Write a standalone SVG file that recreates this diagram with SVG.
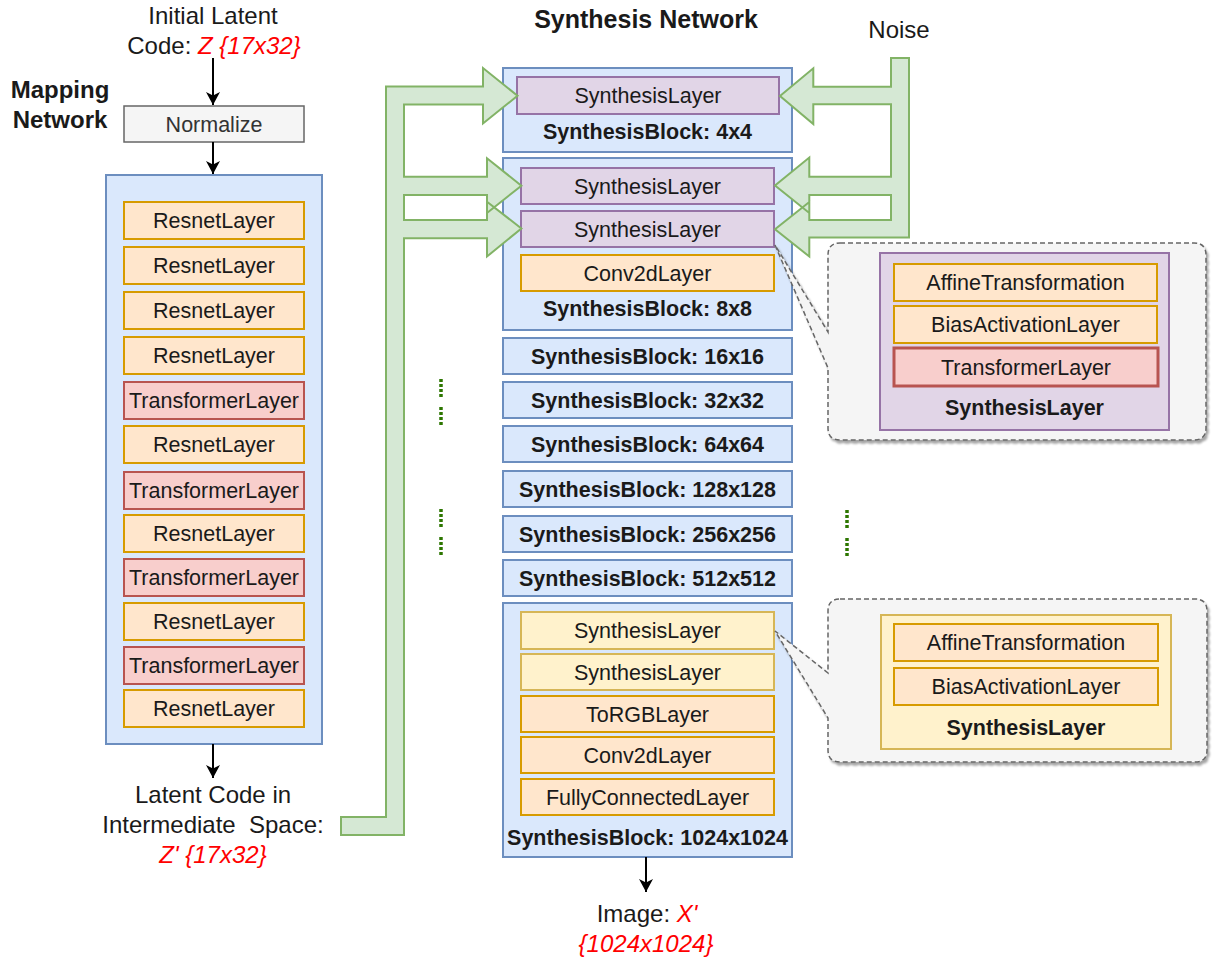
<svg xmlns="http://www.w3.org/2000/svg" width="1218" height="963" viewBox="0 0 1218 963">
<defs>
<style>
text{font-family:"Liberation Sans",Arial,Helvetica,sans-serif;text-anchor:middle;fill:#1a1a1a}
.t{font-size:21.5px}
.b{font-size:21.5px;font-weight:bold}
.s{font-size:24px}
.h{font-size:24px;font-weight:bold}
.r{fill:#ff0000;font-style:italic}
.gray{fill:#f5f5f5;stroke:#666666;stroke-width:1.5}
.blue{fill:#dae8fc;stroke:#6c8ebf;stroke-width:2}
.org{fill:#ffe6cc;stroke:#d79b00;stroke-width:2}
.red{fill:#f8cecc;stroke:#b85450;stroke-width:2}
.pur{fill:#e1d5e7;stroke:#9673a6;stroke-width:2}
.yel{fill:#fff2cc;stroke:#d6b656;stroke-width:2}
.grn{fill:#d5e8d4;stroke:#82b366;stroke-width:2;stroke-linejoin:miter}
.call{fill:#f5f5f5;stroke:#666666;stroke-width:1.5;stroke-dasharray:5 3;filter:url(#sh)}
.edge{fill:none;stroke:#000;stroke-width:2;marker-end:url(#arr)}
.dots{stroke:#2d7600;stroke-width:3.5;stroke-dasharray:3 2;fill:none}
</style>
<marker id="arr" markerUnits="userSpaceOnUse" markerWidth="14" markerHeight="14" refX="13" refY="7" orient="auto">
<path d="M0,0 L13,7 L0,14 L3.5,7 Z" fill="#000"/>
</marker>
<filter id="sh" x="-5%" y="-5%" width="112%" height="115%">
<feDropShadow dx="2" dy="3" stdDeviation="1.2" flood-color="#000" flood-opacity="0.35"/>
</filter>
</defs>
<rect width="1218" height="963" fill="#ffffff"/>

<!-- Mapping network -->
<g id="input-label">
<text class="s" x="213" y="24">Initial Latent</text>
<text class="s" x="214" y="54">Code: <tspan class="r">Z {17x32}</tspan></text>
</g>
<g id="mapping-title">
<text class="h" x="60" y="98">Mapping</text>
<text class="h" x="60" y="128">Network</text>
</g>
<g id="normalize">
<rect class="gray" x="124" y="106" width="180" height="36"/>
<text class="t" x="214" y="131.5" style="fill:#333333">Normalize</text>
</g>
<g id="mapping-container">
<rect class="blue" x="106" y="175" width="216" height="569"/>
</g>
<g id="m-layer-1"><rect class="org" x="124" y="202" width="180" height="37"/><text class="t" x="214" y="228.2">ResnetLayer</text></g>
<g id="m-layer-2"><rect class="org" x="124" y="247" width="180" height="37"/><text class="t" x="214" y="273.2">ResnetLayer</text></g>
<g id="m-layer-3"><rect class="org" x="124" y="292" width="180" height="37"/><text class="t" x="214" y="318.2">ResnetLayer</text></g>
<g id="m-layer-4"><rect class="org" x="124" y="337" width="180" height="37"/><text class="t" x="214" y="363.2">ResnetLayer</text></g>
<g id="m-layer-5"><rect class="red" x="124" y="382" width="180" height="37"/><text class="t" x="214" y="408.2">TransformerLayer</text></g>
<g id="m-layer-6"><rect class="org" x="124" y="426" width="180" height="37"/><text class="t" x="214" y="452.2">ResnetLayer</text></g>
<g id="m-layer-7"><rect class="red" x="124" y="472" width="180" height="37"/><text class="t" x="214" y="498.2">TransformerLayer</text></g>
<g id="m-layer-8"><rect class="org" x="124" y="515" width="180" height="37"/><text class="t" x="214" y="541.2">ResnetLayer</text></g>
<g id="m-layer-9"><rect class="red" x="124" y="559" width="180" height="37"/><text class="t" x="214" y="585.2">TransformerLayer</text></g>
<g id="m-layer-10"><rect class="org" x="124" y="603" width="180" height="37"/><text class="t" x="214" y="629.2">ResnetLayer</text></g>
<g id="m-layer-11"><rect class="red" x="124" y="647" width="180" height="37"/><text class="t" x="214" y="673.2">TransformerLayer</text></g>
<g id="m-layer-12"><rect class="org" x="124" y="690" width="180" height="37"/><text class="t" x="214" y="716.2">ResnetLayer</text></g>
<g id="latent-output-label">
<text class="s" x="213" y="803">Latent Code in</text>
<text class="s" x="213" y="833" xml:space="preserve">Intermediate  Space:</text>
<text class="s r" x="213" y="863">Z' {17x32}</text>
</g>

<!-- Synthesis network -->
<g id="synthesis-title"><text class="h" x="646" y="28" style="font-size:25px">Synthesis Network</text></g>
<g id="noise-label"><text class="s" x="899" y="38">Noise</text></g>

<g id="block-4x4">
<rect class="blue" x="503" y="68" width="289" height="84"/>
<text class="b" x="647.5" y="139">SynthesisBlock: 4x4</text>
</g>
<g id="s4-layer"><rect class="pur" x="517" y="77" width="262" height="37"/><text class="t" x="648" y="103.2">SynthesisLayer</text></g>

<g id="block-8x8">
<rect class="blue" x="503" y="158" width="289" height="172"/>
<text class="b" x="647.5" y="315.5">SynthesisBlock: 8x8</text>
</g>
<g id="s8-layer-1"><rect class="pur" x="521" y="168" width="253" height="36"/><text class="t" x="647.5" y="193.7">SynthesisLayer</text></g>
<g id="s8-layer-2"><rect class="pur" x="521" y="211" width="253" height="36"/><text class="t" x="647.5" y="236.7">SynthesisLayer</text></g>
<g id="s8-conv"><rect class="org" x="521" y="255" width="253" height="36"/><text class="t" x="647.5" y="280.7">Conv2dLayer</text></g>

<g id="block-16"><rect class="blue" x="503" y="338" width="289" height="36"/><text class="b" x="647.5" y="363.7">SynthesisBlock: 16x16</text></g>
<g id="block-32"><rect class="blue" x="503" y="382" width="289" height="36"/><text class="b" x="647.5" y="407.7">SynthesisBlock: 32x32</text></g>
<g id="block-64"><rect class="blue" x="503" y="426" width="289" height="36"/><text class="b" x="647.5" y="451.7">SynthesisBlock: 64x64</text></g>
<g id="block-128"><rect class="blue" x="503" y="471" width="289" height="36"/><text class="b" x="647.5" y="496.7">SynthesisBlock: 128x128</text></g>
<g id="block-256"><rect class="blue" x="503" y="516" width="289" height="36"/><text class="b" x="647.5" y="541.7">SynthesisBlock: 256x256</text></g>
<g id="block-512"><rect class="blue" x="503" y="560" width="289" height="36"/><text class="b" x="647.5" y="585.7">SynthesisBlock: 512x512</text></g>

<g id="block-1024">
<rect class="blue" x="503" y="603" width="289" height="254"/>
<text class="b" x="647.5" y="845">SynthesisBlock: 1024x1024</text>
</g>
<g id="s1024-layer-1"><rect class="yel" x="521" y="612" width="253" height="37"/><text class="t" x="647.5" y="638.2">SynthesisLayer</text></g>
<g id="s1024-layer-2"><rect class="yel" x="521" y="654" width="253" height="36"/><text class="t" x="647.5" y="679.7">SynthesisLayer</text></g>
<g id="s1024-torgb"><rect class="org" x="521" y="696" width="253" height="36"/><text class="t" x="647.5" y="721.7">ToRGBLayer</text></g>
<g id="s1024-conv"><rect class="org" x="521" y="737" width="253" height="36"/><text class="t" x="647.5" y="762.7">Conv2dLayer</text></g>
<g id="s1024-fc"><rect class="org" x="521" y="779" width="253" height="36"/><text class="t" x="647.5" y="804.7">FullyConnectedLayer</text></g>

<g id="image-output-label">
<text class="s" x="647" y="922">Image: <tspan class="r">X'</tspan></text>
<text class="s r" x="646" y="952">{1024x1024}</text>
</g>

<!-- Callouts -->
<g id="callout-synthesis-layer-8x8">
<path class="call" d="M840,243 H1194 Q1206,243 1206,255 V428 Q1206,440 1194,440 H840 Q828,440 828,428 V368 L775,245 L828,332 V255 Q828,243 840,243 Z"/>
<rect class="pur" x="880" y="253" width="289" height="177"/>
<rect class="org" x="894" y="264" width="263" height="37"/>
<text class="t" x="1025.5" y="290.2">AffineTransformation</text>
<rect class="org" x="894" y="306" width="263" height="37"/>
<text class="t" x="1025.5" y="332.2">BiasActivationLayer</text>
<rect class="red" x="894" y="348" width="264" height="38" style="stroke-width:3"/>
<text class="t" x="1026" y="374.7">TransformerLayer</text>
<text class="b" x="1024.5" y="414.5">SynthesisLayer</text>
</g>
<g id="callout-synthesis-layer-1024">
<path class="call" d="M840,599 H1195 Q1207,599 1207,611 V750 Q1207,762 1195,762 H840 Q828,762 828,750 V718 L775,631 L828,673 V611 Q828,599 840,599 Z"/>
<rect class="yel" x="881" y="615" width="290" height="134"/>
<rect class="org" x="894" y="624" width="264" height="37"/>
<text class="t" x="1026" y="650.2">AffineTransformation</text>
<rect class="org" x="894" y="668" width="264" height="37"/>
<text class="t" x="1026" y="694.2">BiasActivationLayer</text>
<text class="b" x="1026" y="734.5">SynthesisLayer</text>
</g>

<!-- Connectors -->
<g id="connectors">
<line class="edge" x1="213" y1="58" x2="213" y2="105"/>
<line class="edge" x1="213" y1="142" x2="213" y2="174"/>
<line class="edge" x1="213" y1="744" x2="213" y2="778"/>
<line class="edge" x1="646" y1="857" x2="646" y2="892"/>
<path id="latent-flow" class="grn" d="M341,817 L386,817 L386,86.5 L483,86.5 L483,68 L517.5,95.8 L483,123.5 L483,104.5 L404,104.5 L404,176.7 L487,176.7 L487,158.3 L521.4,185.7 L487,213 L487,195 L404,195 L404,220 L487,220 L487,201.7 L521.4,228.5 L487,256.5 L487,238.3 L404,238.3 L404,835 L341,835 Z"/>
<path id="noise-flow" class="grn" d="M891,58 L909,58 L909,237.5 L809.3,237.5 L809.3,256.5 L775,229.3 L809.3,202 L809.3,220 L891,220 L891,195 L809.3,195 L809.3,213 L775,185.5 L809.3,157.5 L809.3,176.7 L891,176.7 L891,104.3 L813.3,104.3 L813.3,124 L780,96 L813.3,68.3 L813.3,86.7 L891,86.7 Z"/>
</g>

<g id="ellipsis-marks">
<line class="dots" x1="441" y1="379" x2="441" y2="397"/>
<line class="dots" x1="441" y1="407" x2="441" y2="425"/>
<line class="dots" x1="441" y1="509" x2="441" y2="527"/>
<line class="dots" x1="441" y1="537" x2="441" y2="555"/>
<line class="dots" x1="847" y1="510" x2="847" y2="528"/>
<line class="dots" x1="847" y1="538" x2="847" y2="556"/>
</g>
</svg>
